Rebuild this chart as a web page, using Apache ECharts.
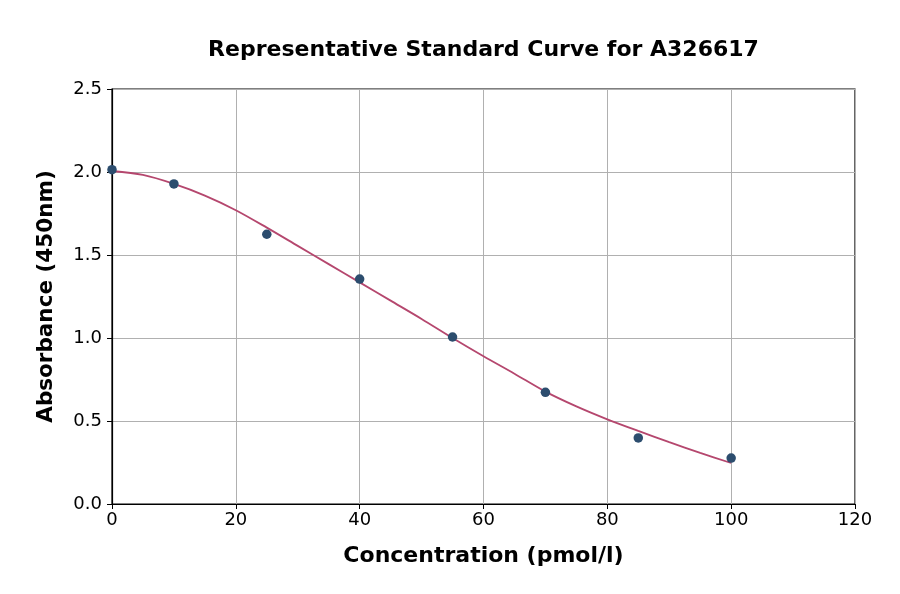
<!DOCTYPE html>
<html><head><meta charset="utf-8">
<script src="https://cdn.jsdelivr.net/npm/echarts@6/dist/echarts.min.js"></script>
<style>html,body{margin:0;padding:0;background:#fff}#c{width:900px;height:594px}</style>
</head><body><div id="c"></div>
<script>
const pointX = [0, 10, 25, 40, 55, 70, 85, 100];
const pointY = [2.014, 1.928, 1.625, 1.355, 1.006, 0.673, 0.398, 0.277];
const curveX = [0, 5, 10, 15, 20, 25, 30, 35, 40, 45, 50, 55, 60, 65, 70, 75, 80, 85, 90, 95, 100];
const curveY = [2.006, 1.982, 1.928, 1.858, 1.77, 1.665, 1.555, 1.445, 1.335, 1.225, 1.115, 1.0, 0.89, 0.785, 0.677, 0.588, 0.51, 0.44, 0.373, 0.308, 0.247];
const xTicks = [0, 20, 40, 60, 80, 100, 120];
const yTicks = [0, 0.5, 1.0, 1.5, 2.0, 2.5];

const font = 'DejaVu Sans';
const chart = echarts.init(document.getElementById('c'), null, {renderer: 'canvas'});
chart.setOption({
  animation: false,
  backgroundColor: '#fff',
  title: {
    text: 'Representative Standard Curve for A326617',
    left: 478.5, top: 34, textAlign: 'center',
    textStyle: {fontFamily: font, fontWeight: 'bold', fontSize: 22, color: '#000'}
  },
  grid: {left: 112, right: 45, top: 89, bottom: 90, show: true, borderColor: '#000', borderWidth: 1.2, backgroundColor: 'transparent'},
  xAxis: {
    type: 'value', min: xTicks[0], max: xTicks[xTicks.length - 1], interval: 20,
    name: 'Concentration (pmol/l)', nameLocation: 'middle', nameGap: 41,
    nameTextStyle: {fontFamily: font, fontWeight: 'bold', fontSize: 22, color: '#000'},
    axisLine: {show: true, lineStyle: {color: '#000', width: 1.2}},
    axisTick: {show: true, length: 5, lineStyle: {color: '#000'}},
    axisLabel: {fontFamily: font, fontSize: 18, color: '#000', margin: 7},
    splitLine: {show: true, lineStyle: {color: '#b0b0b0', width: 1}}
  },
  yAxis: {
    type: 'value', min: yTicks[0], max: yTicks[yTicks.length - 1], interval: 0.5,
    name: 'Absorbance (450nm)', nameLocation: 'middle', nameGap: 55,
    nameTextStyle: {fontFamily: font, fontWeight: 'bold', fontSize: 21.5, color: '#000'},
    axisLine: {show: true, lineStyle: {color: '#000', width: 1.2}},
    axisTick: {show: true, length: 5, lineStyle: {color: '#000'}},
    axisLabel: {fontFamily: font, fontSize: 18, color: '#000', margin: 10, formatter: v => v.toFixed(1)},
    splitLine: {show: true, lineStyle: {color: '#b0b0b0', width: 1}}
  },
  series: [
    {
      type: 'line', data: curveX.map((x, i) => [x, curveY[i]]), smooth: 0.3,
      showSymbol: false, lineStyle: {color: '#b5476e', width: 1.8}, z: 2
    },
    {
      type: 'scatter', data: pointX.map((x, i) => [x, pointY[i]]),
      symbolSize: 9.5, itemStyle: {color: '#2c4d6e', opacity: 1}, z: 3
    }
  ]
});
</script></body></html>
